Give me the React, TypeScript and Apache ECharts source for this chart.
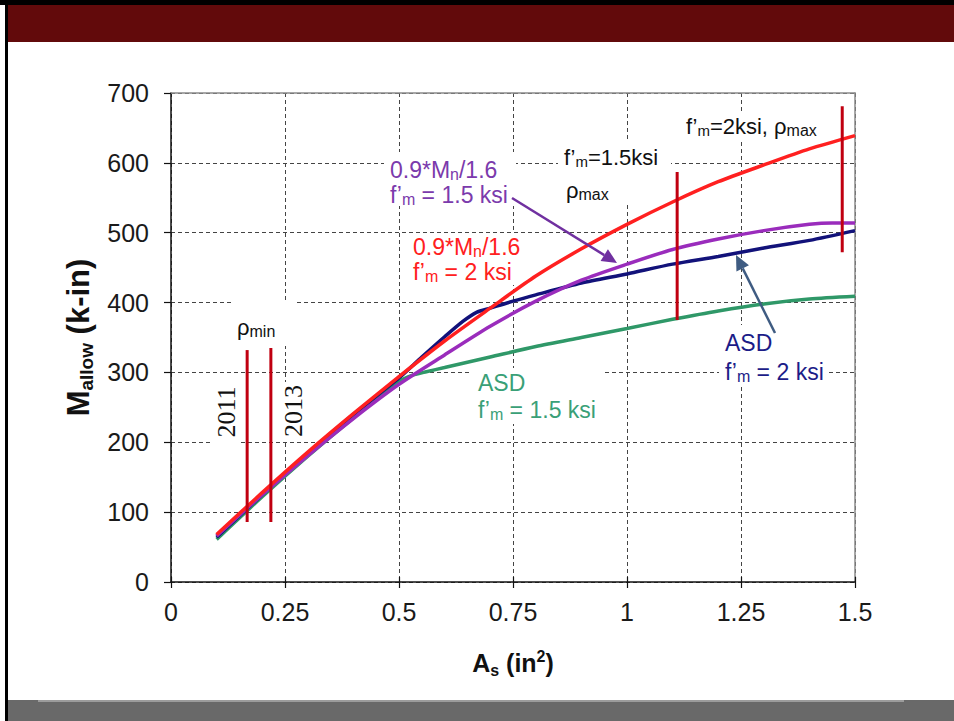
import React, { useEffect, useRef } from "react";
import * as echarts from "echarts";

// ---------- data ----------
const xTicks = [0, 0.25, 0.5, 0.75, 1, 1.25, 1.5];
const yTicks = [0, 100, 200, 300, 400, 500, 600, 700];

// 0.9*Mn/1.6, f'm = 2 ksi (red)
const redX = [0.1, 0.2, 0.3, 0.4, 0.5, 0.6, 0.7, 0.8, 0.9, 1.0, 1.1, 1.2, 1.3, 1.4, 1.5];
const redY = [68, 128, 186, 241, 294, 345, 392, 438, 477, 512, 544, 573, 597, 620, 639];

// ASD, f'm = 2 ksi (navy)
const navyX = [0.1, 0.2, 0.3, 0.4, 0.5, 0.55, 0.6, 0.64, 0.67, 0.7, 0.75, 0.8, 0.9, 1.0, 1.1, 1.2, 1.3, 1.4, 1.5];
const navyY = [64, 125, 184, 240, 292, 322, 351, 373, 386, 392, 402, 411, 428, 441, 455, 466, 478, 489, 503];

// 0.9*Mn/1.6, f'm = 1.5 ksi (purple)
const purpleX = [0.1, 0.2, 0.3, 0.4, 0.5, 0.6, 0.7, 0.8, 0.9, 1.0, 1.1, 1.2, 1.3, 1.4, 1.45, 1.5];
const purpleY = [66, 125, 181, 234, 283, 325, 366, 402, 432, 455, 476, 491, 503, 512, 514, 514];

// ASD, f'm = 1.5 ksi (green)
const greenX = [0.1, 0.2, 0.3, 0.4, 0.5, 0.53, 0.56, 0.6, 0.7, 0.8, 0.9, 1.0, 1.1, 1.2, 1.3, 1.4, 1.5];
const greenY = [61, 122, 180, 235, 287, 296, 301, 307, 322, 337, 350, 363, 376, 388, 398, 405, 409];

// rho limit markers (vertical bars)
const rhoMin2011X = [0.167, 0.167];
const rhoMin2011Y = [86, 332];
const rhoMin2013X = [0.219, 0.219];
const rhoMin2013Y = [86, 335];
const rhoMax15X = [1.11, 1.11];
const rhoMax15Y = [375, 587];
const rhoMax2X = [1.472, 1.472];
const rhoMax2Y = [472, 681];

const pairs = (xs: number[], ys: number[]) => xs.map((x, i) => [x, ys[i]]);

// ---------- styles ----------
const SANS = '"Liberation Sans", Arial, sans-serif';
const SERIF = '"Liberation Serif", "Times New Roman", serif';
const RED = "#ff2020";
const NAVY = "#12127a";
const PURPLE = "#9a2cbc";
const GREEN = "#2f9868";
const BAR = "#c00010";

const richFor = (color: string, size = 23) => ({
  t: { fontFamily: SANS, fontSize: size, color, lineHeight: 24, verticalAlign: "middle" },
  s: { fontFamily: SANS, fontSize: Math.round(size * 0.68), color, lineHeight: 11, verticalAlign: "bottom" },
  s2: { fontFamily: SANS, fontSize: Math.round(size * 0.72), color, lineHeight: 16, verticalAlign: "bottom" },
});

const label = (text: string, x: number, y: number, color: string, size = 23) => ({
  type: "text",
  x,
  y,
  z: 1,
  z2: 10,
  style: {
    text,
    rich: richFor(color, size),
    textAlign: "left",
    textVerticalAlign: "middle",
    fill: color,
  },
});

const box = (x: number, y: number, width: number, height: number) => ({
  type: "rect",
  z: 1,
  z2: 5,
  shape: { x, y, width, height },
  style: { fill: "#ffffff" },
});

const arrow = (x1: number, y1: number, x2: number, y2: number, color: string, w: number) => {
  const dx = x2 - x1;
  const dy = y2 - y1;
  const len = Math.sqrt(dx * dx + dy * dy);
  const ux = dx / len;
  const uy = dy / len;
  const hl = 15;
  const hw = 7;
  const bx = x2 - ux * hl;
  const by = y2 - uy * hl;
  return [
    {
      type: "line",
      z: 3,
      shape: { x1, y1, x2: bx, y2: by },
      style: { stroke: color, lineWidth: w },
    },
    {
      type: "polygon",
      z: 3,
      shape: {
        points: [
          [x2, y2],
          [bx - uy * hw, by + ux * hw],
          [bx + uy * hw, by - ux * hw],
        ],
      },
      style: { fill: color },
    },
  ];
};

export default function App() {
  const ref = useRef<HTMLDivElement>(null);

  useEffect(() => {
    document.body.style.margin = "0";
    const chart = echarts.init(ref.current!, null, { renderer: "svg" });

    const lineSeries = (name: string, xs: number[], ys: number[], color: string, width: number) => ({
      name,
      type: "line",
      data: pairs(xs, ys),
      showSymbol: false,
      smooth: 0.25,
      lineStyle: { color, width },
      itemStyle: { color },
      z: 2,
    });
    const barSeries = (name: string, xs: number[], ys: number[]) => ({
      name,
      type: "line",
      data: pairs(xs, ys),
      showSymbol: false,
      lineStyle: { color: BAR, width: 3 },
      itemStyle: { color: BAR },
      z: 2,
    });

    const axisLabelStyle = { fontFamily: SANS, fontSize: 25, color: "#1a1a1a" };
    const split = { show: true, lineStyle: { color: "#444", width: 1, type: [4, 3] } };

    chart.setOption({
      animation: false,
      backgroundColor: "#ffffff",
      grid: { left: 171, right: 99, top: 93, bottom: 139, containLabel: false },
      xAxis: [
        {
          type: "value",
          min: xTicks[0],
          max: xTicks[xTicks.length - 1],
          interval: xTicks[1] - xTicks[0],
          axisLine: { show: true, onZero: false, lineStyle: { color: "#111", width: 1.5 } },
          axisTick: { show: true, length: 6, lineStyle: { color: "#111", width: 1.2 } },
          axisLabel: { ...axisLabelStyle, margin: 17, formatter: (v: number) => String(v) },
          splitLine: split,
          name: "{m|A}{s|s}{m| (in}{p|2}{m|)}",
          nameLocation: "middle",
          nameGap: 66,
          nameTextStyle: {
            rich: {
              m: { fontFamily: SANS, fontSize: 25, fontWeight: "bold", color: "#111", lineHeight: 30, verticalAlign: "middle" },
              s: { fontFamily: SANS, fontSize: 16, fontWeight: "bold", color: "#111", lineHeight: 14, verticalAlign: "bottom" },
              p: { fontFamily: SANS, fontSize: 16, fontWeight: "bold", color: "#111", lineHeight: 16, verticalAlign: "top" },
            },
          },
        },
        {
          type: "value",
          position: "top",
          min: xTicks[0],
          max: xTicks[xTicks.length - 1],
          interval: xTicks[1] - xTicks[0],
          axisLine: { show: true, onZero: false, lineStyle: { color: "#8a8a8a", width: 1.5 } },
          axisTick: { show: false },
          axisLabel: { show: false },
          splitLine: { show: false },
        },
        {
          type: "value",
          position: "bottom",
          min: xTicks[0],
          max: xTicks[xTicks.length - 1],
          interval: xTicks[1] - xTicks[0],
          axisLine: { show: false, onZero: false },
          axisTick: { show: true, inside: true, length: 5, lineStyle: { color: "#111", width: 1.2 } },
          axisLabel: { show: false },
          splitLine: { show: false },
        },
      ],
      yAxis: [
        {
          type: "value",
          min: yTicks[0],
          max: yTicks[yTicks.length - 1],
          interval: yTicks[1] - yTicks[0],
          axisLine: { show: true, onZero: false, lineStyle: { color: "#111", width: 1.5 } },
          axisTick: { show: true, length: 7, lineStyle: { color: "#111", width: 1.2 } },
          axisLabel: { ...axisLabelStyle, margin: 22 },
          splitLine: split,
          name: "{m|M}{s|allow}{m| (k-in)}",
          nameLocation: "middle",
          nameRotate: 90,
          nameGap: 66,
          nameTextStyle: {
            rich: {
              m: { fontFamily: SANS, fontSize: 31, fontWeight: "bold", color: "#111", lineHeight: 36, verticalAlign: "middle" },
              s: { fontFamily: SANS, fontSize: 19, fontWeight: "bold", color: "#111", lineHeight: 17, verticalAlign: "bottom" },
            },
          },
        },
        {
          type: "value",
          position: "right",
          min: yTicks[0],
          max: yTicks[yTicks.length - 1],
          interval: yTicks[1] - yTicks[0],
          axisLine: { show: true, onZero: false, lineStyle: { color: "#8a8a8a", width: 1.5 } },
          axisTick: { show: false },
          axisLabel: { show: false },
          splitLine: { show: false },
        },
      ],
      series: [
        lineSeries("ASD f'm=1.5 ksi", greenX, greenY, GREEN, 3.5),
        lineSeries("ASD f'm=2 ksi", navyX, navyY, NAVY, 3.5),
        lineSeries("0.9*Mn/1.6 f'm=1.5 ksi", purpleX, purpleY, PURPLE, 3.5),
        lineSeries("0.9*Mn/1.6 f'm=2 ksi", redX, redY, RED, 3.5),
        barSeries("rho min 2011", rhoMin2011X, rhoMin2011Y),
        barSeries("rho min 2013", rhoMin2013X, rhoMin2013Y),
        barSeries("rho max 1.5 ksi", rhoMax15X, rhoMax15Y),
        barSeries("rho max 2 ksi", rhoMax2X, rhoMax2Y),
      ],
      graphic: {
        elements: [
          // slide frame
          { type: "rect", z: 0, shape: { x: 0, y: 0, width: 954, height: 5 }, style: { fill: "#000" } },
          { type: "rect", z: 0, shape: { x: 8, y: 5, width: 946, height: 37 }, style: { fill: "#620a0b" } },
          { type: "rect", z: 0, shape: { x: 5, y: 0, width: 3, height: 721 }, style: { fill: "#000" } },
          { type: "rect", z: 0, shape: { x: 8, y: 700, width: 946, height: 21 }, style: { fill: "#696969" } },
          { type: "rect", z: 0, shape: { x: 38, y: 700, width: 866, height: 2 }, style: { fill: "#9c9c9c" } },

          // white label boxes
          box(384, 152, 132, 54),
          box(407, 233, 122, 52),
          box(558, 140, 113, 64),
          box(680, 111, 146, 30),
          box(719, 325, 110, 62),
          box(472, 368, 130, 56),
          box(232, 300, 63, 46),
          box(213, 380, 27, 64),
          box(280, 382, 26, 58),

          // labels
          label("{t|0.9*M}{s|n}{t|/1.6}", 390, 170, "#7b3aac"),
          label("{t|f’}{s|m}{t| = 1.5 ksi}", 390, 195, "#7b3aac"),
          label("{t|0.9*M}{s|n}{t|/1.6}", 413, 247, RED),
          label("{t|f’}{s|m}{t| = 2 ksi}", 413, 272, RED),
          label("{t|f’}{s|m}{t|=1.5ksi}", 564, 157, "#111", 22),
          label("{t|ρ}{s2|max}", 566, 190, "#111", 22),
          label("{t|f’}{s|m}{t|=2ksi, ρ}{s2|max}", 686, 126, "#111", 22),
          label("{t|ASD}", 725, 343, "#1c1c88"),
          label("{t|f’}{s|m}{t| = 2 ksi}", 725, 372, "#1c1c88"),
          label("{t|ASD}", 478, 383, "#3aa077"),
          label("{t|f’}{s|m}{t| = 1.5 ksi}", 478, 410, "#3aa077"),
          label("{t|ρ}{s2|min}", 237, 327, "#111", 22),
          {
            type: "text",
            x: 226,
            y: 412,
            rotation: Math.PI / 2,
            z: 1,
            z2: 10,
            style: { text: "2011", font: `26px ${SERIF}`, fill: "#111", textAlign: "center", textVerticalAlign: "middle" },
          },
          {
            type: "text",
            x: 293,
            y: 411,
            rotation: Math.PI / 2,
            z: 1,
            z2: 10,
            style: { text: "2013", font: `26px ${SERIF}`, fill: "#111", textAlign: "center", textVerticalAlign: "middle" },
          },

          // arrows
          ...arrow(512, 198, 617, 263, "#7030a0", 2.5),
          ...arrow(775, 333, 736, 255, "#3f5c82", 2.5),
        ],
      },
    });

    return () => chart.dispose();
  }, []);

  return (
    <div
      ref={ref}
      style={{ position: "fixed", left: 0, top: 0, width: 954, height: 721, background: "#fff" }}
    />
  );
}
